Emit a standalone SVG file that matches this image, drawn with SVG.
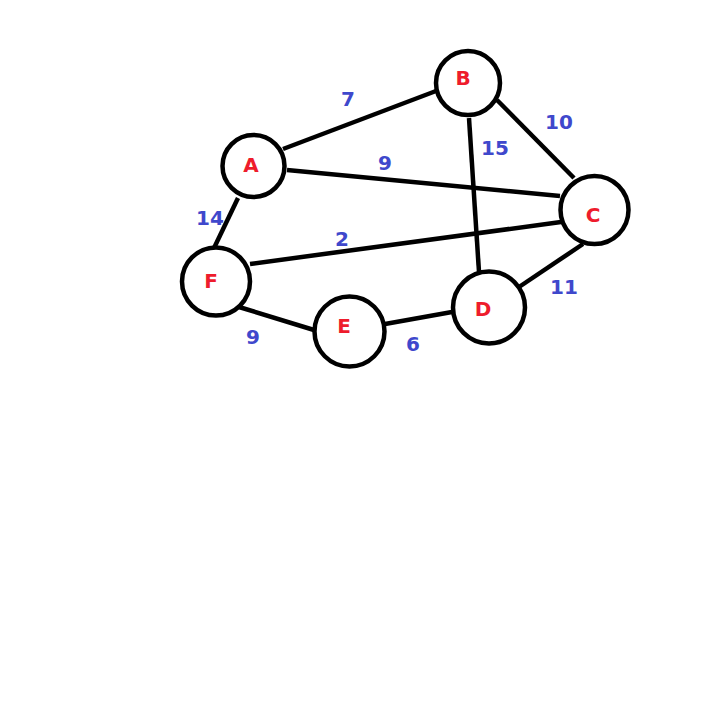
<svg xmlns="http://www.w3.org/2000/svg" width="720" height="720" viewBox="0 0 720 720">
<style>
.e{stroke:#000;stroke-width:4.5;fill:none}
.n{fill:#fff;stroke:#000;stroke-width:4.5}
.l{font-family:"DejaVu Sans",Verdana,sans-serif;font-weight:bold;font-size:20px;fill:#ee1c2c;text-anchor:middle}
.w{font-family:"DejaVu Sans",Verdana,sans-serif;font-weight:bold;font-size:20px;fill:#3f48cc;text-anchor:middle}
</style>
<rect width="720" height="720" fill="#fff"/>
<g id="edges">
<line class="e" x1="283" y1="149" x2="436" y2="91"/>
<line class="e" x1="287" y1="170" x2="560" y2="196"/>
<line class="e" x1="497" y1="100" x2="574" y2="178"/>
<line class="e" x1="469" y1="118" x2="479" y2="272"/>
<line class="e" x1="238" y1="198" x2="214" y2="248"/>
<line class="e" x1="250" y1="264" x2="561" y2="222"/>
<line class="e" x1="239" y1="307" x2="314" y2="330"/>
<line class="e" x1="385" y1="324" x2="452" y2="312"/>
<line class="e" x1="519" y1="287" x2="583" y2="244"/>
<text class="w" x="348" y="106">7</text>
<text class="w" x="385" y="170">9</text>
<text class="w" x="559" y="129">10</text>
<text class="w" x="495" y="155">15</text>
<text class="w" x="210" y="225">14</text>
<text class="w" x="342" y="246">2</text>
<text class="w" x="564" y="294">11</text>
<text class="w" x="253" y="344">9</text>
<text class="w" x="413" y="351">6</text>
</g>
<g id="A"><circle class="n" cx="253.5" cy="166" r="31"/><text class="l" x="251" y="172">A</text></g>
<g id="B"><circle class="n" cx="468" cy="83" r="32"/><text class="l" x="463" y="85">B</text></g>
<g id="C"><circle class="n" cx="594.5" cy="210" r="34"/><text class="l" x="593" y="222">C</text></g>
<g id="D"><circle class="n" cx="489" cy="307.5" r="36"/><text class="l" x="483" y="316">D</text></g>
<g id="E"><circle class="n" cx="349.5" cy="331.5" r="35"/><text class="l" x="344" y="333">E</text></g>
<g id="F"><circle class="n" cx="216" cy="281.5" r="34"/><text class="l" x="211" y="288">F</text></g>
</svg>
